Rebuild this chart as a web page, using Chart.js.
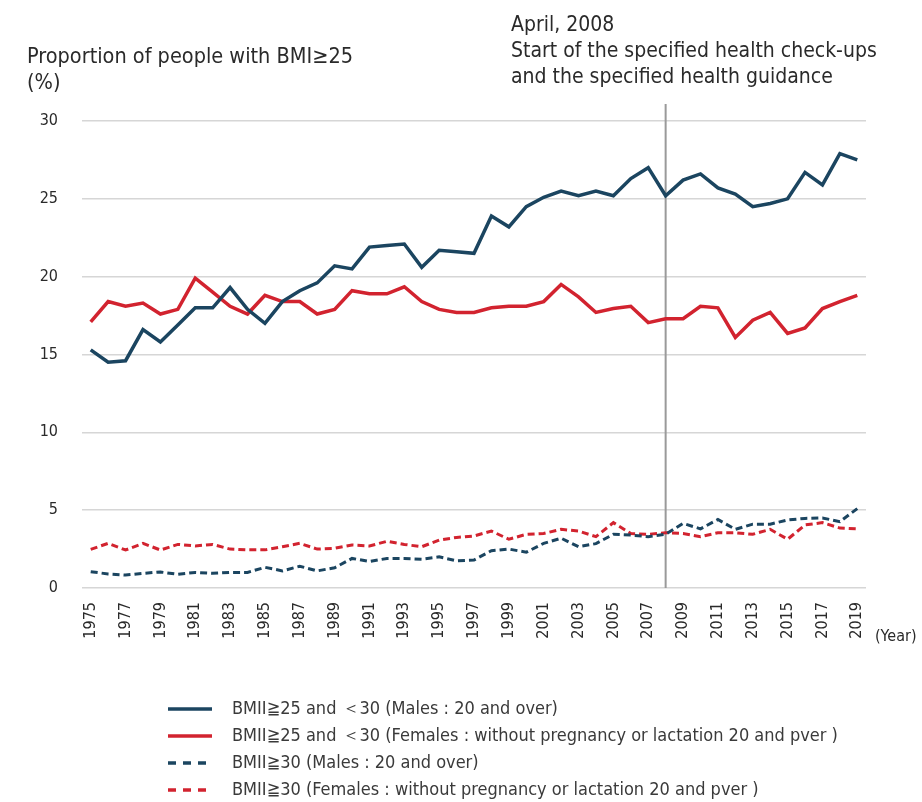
<!DOCTYPE html>
<html>
<head>
<meta charset="utf-8">
<script src="https://cdn.jsdelivr.net/npm/chart.js@4.4.1/dist/chart.umd.min.js"></script>
<style>
  html, body { margin: 0; background: #fff; }
  #bmiChart { display: block; }
</style>
</head>
<body>
<canvas id="bmiChart" width="922" height="802"></canvas>
<script>
const years = ['1975', '1976', '1977', '1978', '1979', '1980', '1981', '1982', '1983', '1984',
  '1985', '1986', '1987', '1988', '1989', '1990', '1991', '1992', '1993', '1994',
  '1995', '1996', '1997', '1998', '1999', '2000', '2001', '2002', '2003', '2004',
  '2005', '2006', '2007', '2008', '2009', '2010', '2011', '2012', '2013', '2014',
  '2015', '2016', '2017', '2018', '2019'];

// BMI >= 25 and < 30
const malesOverweight = [15.3, 14.5, 14.6, 16.6, 15.8, 16.9, 18.0, 18.0, 19.3, 17.9,
  17.0, 18.4, 19.1, 19.6, 20.7, 20.5, 21.9, 22.0, 22.1, 20.6,
  21.7, 21.6, 21.5, 23.9, 23.2, 24.5, 25.1, 25.5, 25.2, 25.5,
  25.2, 26.3, 27.0, 25.2, 26.2, 26.6, 25.7, 25.3, 24.5, 24.7,
  25.0, 26.7, 25.9, 27.9, 27.5];
const femalesOverweight = [17.1, 18.4, 18.1, 18.3, 17.6, 17.9, 19.9, 19.0, 18.1, 17.6,
  18.8, 18.4, 18.4, 17.6, 17.9, 19.1, 18.9, 18.9, 19.35, 18.4,
  17.9, 17.7, 17.7, 18.0, 18.1, 18.1, 18.4, 19.5, 18.7, 17.7,
  17.95, 18.1, 17.05, 17.3, 17.3, 18.1, 18.0, 16.1, 17.2, 17.7,
  16.35, 16.7, 17.95, 18.4, 18.8];

// BMI >= 30
const malesObese = [1.05, 0.9, 0.83, 0.94, 1.03, 0.88, 1.0, 0.94, 1.0, 1.0,
  1.33, 1.1, 1.4, 1.1, 1.3, 1.9, 1.7, 1.9, 1.9, 1.85,
  2.0, 1.75, 1.8, 2.4, 2.5, 2.3, 2.87, 3.2, 2.65, 2.85,
  3.45, 3.4, 3.3, 3.45, 4.15, 3.8, 4.4, 3.77, 4.1, 4.1,
  4.37, 4.47, 4.5, 4.26, 5.1];
const femalesObese = [2.48, 2.87, 2.44, 2.87, 2.44, 2.8, 2.7, 2.8, 2.5, 2.45,
  2.45, 2.65, 2.87, 2.5, 2.55, 2.76, 2.7, 3.0, 2.8, 2.65,
  3.08, 3.25, 3.34, 3.66, 3.13, 3.45, 3.5, 3.77, 3.66, 3.3,
  4.2, 3.5, 3.45, 3.55, 3.5, 3.3, 3.55, 3.55, 3.45, 3.77,
  3.13, 4.05, 4.2, 3.85, 3.8];

const yTicks = [0, 5, 10, 15, 20, 25, 30];
const markerYear = '2008';

const seriesLabels = [
  'BMII≧25 and ＜30 (Males : 20 and over)',
  'BMII≧25 and ＜30 (Females : without pregnancy or lactation 20 and pver )',
  'BMII≧30 (Males : 20 and over)',
  'BMII≧30 (Females : without pregnancy or lactation 20 and pver )'
];

const NAVY = '#1b4560';
const RED = '#d2232f';
const FONT = '"DejaVu Sans Condensed", "Liberation Sans", sans-serif';
const TEXT = '#2a2a2a';

const overlay = {
  id: 'overlay',
  beforeDatasetsDraw(chart) {
    const { ctx, chartArea, scales } = chart;
    const x = scales.x.getPixelForValue(years.indexOf(markerYear));
    ctx.save();
    ctx.strokeStyle = '#9a9a9a';
    ctx.lineWidth = 2;
    ctx.beginPath();
    ctx.moveTo(x, 104);
    ctx.lineTo(x, chartArea.bottom);
    ctx.stroke();
    ctx.restore();
  },
  afterDraw(chart) {
    const { ctx } = chart;
    ctx.save();
    ctx.fillStyle = TEXT;
    ctx.textBaseline = 'alphabetic';
    ctx.textAlign = 'left';
    ctx.font = '21.5px ' + FONT;
    ctx.fillText('Proportion of people with BMI≥25', 27, 63);
    ctx.fillText('(%)', 27, 89);
    ctx.font = '21px ' + FONT;
    ctx.fillText('April, 2008', 511, 31);
    ctx.fillText('Start of the specified health check-ups', 511, 57);
    ctx.fillText('and the specified health guidance', 511, 83);

    ctx.font = '16px ' + FONT;
    ctx.fillText('(Year)', 875, 641);

    // legend
    chart.data.datasets.forEach((ds, i) => {
      const y = 709 + i * 27;
      ctx.save();
      ctx.strokeStyle = ds.borderColor;
      ctx.lineWidth = 3.5;
      ctx.setLineDash(ds.borderDash ? [8, 7] : []);
      ctx.beginPath();
      ctx.moveTo(168, y);
      ctx.lineTo(212, y);
      ctx.stroke();
      ctx.restore();
      ctx.font = '18px ' + FONT;
      ctx.fillStyle = '#3a3a3a';
      ctx.textBaseline = 'middle';
      ctx.fillText(ds.label, 232, y);
    });
    ctx.restore();
  }
};

function lineSet(label, data, color, dashed) {
  return {
    label,
    data,
    borderColor: color,
    backgroundColor: color,
    borderWidth: dashed ? 3 : 3.5,
    borderDash: dashed ? [7, 4] : undefined,
    pointRadius: 0,
    pointHoverRadius: 0,
    tension: 0,
    fill: false
  };
}

new Chart(document.getElementById('bmiChart'), {
  type: 'line',
  data: {
    labels: years,
    datasets: [
      lineSet(seriesLabels[0], malesOverweight, NAVY, false),
      lineSet(seriesLabels[1], femalesOverweight, RED, false),
      lineSet(seriesLabels[2], malesObese, NAVY, true),
      lineSet(seriesLabels[3], femalesObese, RED, true)
    ]
  },
  options: {
    responsive: false,
    animation: false,
    events: [],
    layout: { padding: { top: 121, right: 56, bottom: 154, left: 0 } },
    plugins: {
      legend: { display: false },
      tooltip: { enabled: false }
    },
    scales: {
      x: {
        offset: true,
        grid: { display: false },
        border: { display: false },
        afterFit(scale) { scale.height = 60; },
        ticks: {
          autoSkip: false,
          minRotation: 90,
          maxRotation: 90,
          padding: 6,
          color: TEXT,
          font: { family: FONT, size: 16 },
          callback(value, index) {
            return index % 2 === 0 ? years[index] : '';
          }
        }
      },
      y: {
        min: yTicks[0],
        max: yTicks[yTicks.length - 1],
        afterFit(scale) { scale.width = 82; },
        afterBuildTicks(scale) { scale.ticks = yTicks.map(v => ({ value: v })); },
        grid: { color: '#d6d6d6', lineWidth: 1.5, drawTicks: false },
        border: { display: false },
        ticks: {
          padding: 24,
          color: TEXT,
          font: { family: FONT, size: 16 }
        }
      }
    }
  },
  plugins: [overlay]
});
</script>
</body>
</html>
